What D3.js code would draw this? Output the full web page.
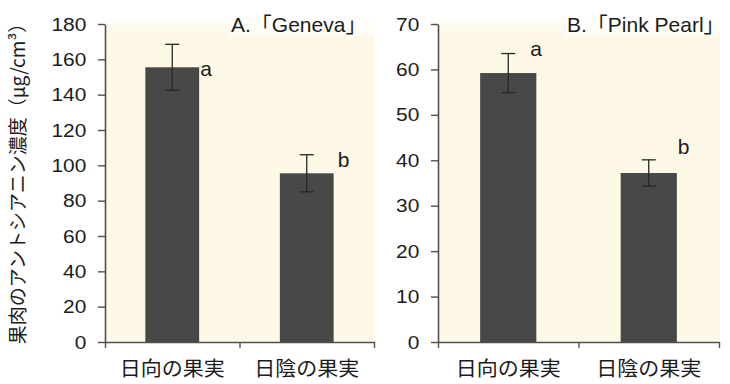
<!DOCTYPE html>
<html>
<head>
<meta charset="utf-8">
<script src="https://cdn.jsdelivr.net/npm/d3@7"></script>
<style>
  html, body { margin: 0; padding: 0; background: #ffffff; }
  svg { display: block; }
  text { font-family: "Liberation Sans", Arial, "Noto Sans CJK JP", sans-serif; fill: #1b1b1b; }
  .jp { font-family: "Noto Sans CJK JP", "Liberation Sans", sans-serif; }
</style>
</head>
<body>
<svg id="chart" width="730" height="384"></svg>
<script>
// Categories shared by both panels
const categories = ["日向の果実", "日陰の果実"];

// Panel A: 「Geneva」 flesh anthocyanin (μg/cm³)
const genevaMeans = [155.5, 95.5];
const genevaErrors = [13, 10.5];
const genevaLetters = ["a", "b"];
const genevaTicks = [0, 20, 40, 60, 80, 100, 120, 140, 160, 180];

// Panel B: 「Pink Pearl」
const pinkMeans = [59.2, 37.2];
const pinkErrors = [4.3, 2.9];
const pinkLetters = ["a", "b"];
const pinkTicks = [0, 10, 20, 30, 40, 50, 60, 70];

const yTitle = "果肉のアントシアニン濃度（μg/cm³）";

const svg = d3.select("#chart");
const defs = svg.append("defs");
const grad = defs.append("linearGradient")
  .attr("id", "creamFade").attr("x1", 0).attr("y1", 0).attr("x2", 0).attr("y2", 1);
grad.append("stop").attr("offset", "0").attr("stop-color", "#fdf9e6").attr("stop-opacity", 0.2);
grad.append("stop").attr("offset", "0.05").attr("stop-color", "#fdf9e6").attr("stop-opacity", 1);
grad.append("stop").attr("offset", "1").attr("stop-color", "#fdf9e6").attr("stop-opacity", 1);

const panels = [
  { title: "A.「Geneva」", means: genevaMeans, errors: genevaErrors, letters: genevaLetters,
    ticks: genevaTicks, max: 180, left: 105, right: 374, titleX: 231,
    letterOffsets: [[1, 9], [4, -6]] },
  { title: "B.「Pink Pearl」", means: pinkMeans, errors: pinkErrors, letters: pinkLetters,
    ticks: pinkTicks, max: 70, left: 438, right: 719, titleX: 567,
    letterOffsets: [[-6, -17], [1, -19]] }
];

const plotTop = 24, plotBottom = 342;
const axisColor = "#554f4a";

panels.forEach(p => {
  const g = svg.append("g");
  const y = d3.scaleLinear().domain([0, p.max]).range([plotBottom, plotTop]);
  const x = d3.scaleBand().domain(categories).range([p.left, p.right]).paddingInner(0.6).paddingOuter(0.3);
  const xEdge = d3.scaleLinear().domain([0, categories.length]).range([p.left, p.right]);

  // plot background
  g.append("rect")
    .attr("x", p.left).attr("y", plotTop - 6)
    .attr("width", p.right - p.left + 1).attr("height", plotBottom - plotTop + 6)
    .attr("fill", "url(#creamFade)");

  // bars
  g.selectAll("rect.bar").data(p.means).join("rect")
    .attr("class", "bar")
    .attr("x", (d, i) => x(categories[i]))
    .attr("y", d => y(d))
    .attr("width", x.bandwidth())
    .attr("height", d => y(0) - y(d))
    .attr("fill", "#484848");

  // error bars
  const cap = 7;
  p.means.forEach((m, i) => {
    const cx = x(categories[i]) + x.bandwidth() / 2;
    const e = p.errors[i];
    const eb = g.append("g").attr("stroke", "#262626").attr("stroke-width", 1.3);
    eb.append("line").attr("x1", cx).attr("x2", cx).attr("y1", y(m + e)).attr("y2", y(m - e));
    eb.append("line").attr("x1", cx - cap).attr("x2", cx + cap).attr("y1", y(m + e)).attr("y2", y(m + e));
    eb.append("line").attr("x1", cx - cap).attr("x2", cx + cap).attr("y1", y(m - e)).attr("y2", y(m - e));
  });

  // significance letters
  g.selectAll("text.letter").data(p.letters).join("text")
    .attr("class", "letter")
    .attr("x", (d, i) => x(categories[i]) + x.bandwidth() + p.letterOffsets[i][0])
    .attr("y", (d, i) => y(p.means[i]) + p.letterOffsets[i][1])
    .attr("font-size", 21)
    .text(d => d);

  // y axis
  const ya = g.append("g")
    .attr("transform", `translate(${p.left},0)`)
    .call(d3.axisLeft(y).tickValues(p.ticks).tickSize(7).tickSizeOuter(0).tickPadding(10));
  ya.select(".domain").attr("stroke", axisColor).attr("stroke-width", 1.6);
  ya.selectAll(".tick line").attr("stroke", axisColor).attr("stroke-width", 1.4);
  ya.selectAll(".tick text")
    .attr("font-size", 19)
    .attr("fill", "#1b1b1b")
    .attr("font-family", "Liberation Sans, Arial, sans-serif")
    .attr("transform", "scale(1.1,1)");

  // x axis line with boundary ticks
  const xa = g.append("g")
    .attr("transform", `translate(0,${plotBottom})`)
    .call(d3.axisBottom(xEdge).tickValues([0, 1, 2]).tickFormat("").tickSize(6).tickSizeOuter(0));
  xa.select(".domain").attr("stroke", axisColor).attr("stroke-width", 1.6);
  xa.selectAll(".tick line").attr("stroke", axisColor).attr("stroke-width", 1.4);

  // category labels
  const xl = g.append("g")
    .attr("transform", `translate(0,${plotBottom})`)
    .call(d3.axisBottom(x).tickSize(0).tickPadding(20));
  xl.select(".domain").remove();
  xl.selectAll(".tick text")
    .attr("class", "jp")
    .attr("font-size", 20)
    .attr("fill", "#1b1b1b")
    .attr("font-family", "Noto Sans CJK JP, sans-serif")
    .attr("transform", "scale(1.05,1)");

  // panel title
  g.append("rect")
    .attr("x", p.titleX - 2).attr("y", 12).attr("width", (p.right + 10) - p.titleX).attr("height", 24)
    .attr("fill", "#ffffff").attr("opacity", 0.6);
  g.append("text")
    .attr("x", p.titleX).attr("y", 32)
    .attr("font-size", 21)
    .text(p.title);
});

// shared y-axis title
svg.append("text")
  .attr("class", "jp")
  .attr("transform", "translate(25,179) rotate(-90)")
  .attr("text-anchor", "middle")
  .attr("font-size", 19)
  .attr("font-family", "Noto Sans CJK JP, sans-serif")
  .text(yTitle);
</script>
</body>
</html>
